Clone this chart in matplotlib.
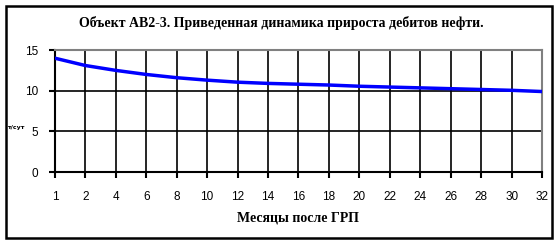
import matplotlib.pyplot as plt
from matplotlib.patches import Rectangle

months = ['1', '2', '4', '6', '8', '10', '12', '14', '16', '18', '20', '22', '24', '26', '28', '30', '32']
growth = [14.0, 13.1, 12.5, 12.0, 11.6, 11.3, 11.05, 10.9, 10.8, 10.7, 10.55, 10.45, 10.35, 10.25, 10.15, 10.05, 9.9]
yticks = [0, 5, 10, 15]

fig = plt.figure(figsize=(5.6, 2.43), dpi=100)
fig.patches.append(Rectangle((0.011, 0.02), 0.975, 0.955, transform=fig.transFigure,
                             fill=False, edgecolor='black', linewidth=1.8))

ax = fig.add_axes([0.098, 0.292, 0.870, 0.502])
x = list(range(len(months)))
ax.plot(x, growth, color='#0000ff', linewidth=2.5, zorder=3)

ax.set_xlim(0, len(months) - 1)
ax.set_ylim(0, 15)
ax.set_xticks(x)
ax.set_xticklabels(months, fontsize=8.5, family='Liberation Sans')
ax.set_yticks(yticks)
ax.set_yticklabels([str(v) for v in yticks], fontsize=8.5, family='Liberation Sans')
ax.tick_params(axis='both', direction='out', length=4, width=1.5, colors='black', pad=10)
ax.tick_params(axis='y', pad=8)

ax.grid(True, color='black', linewidth=1.2)
ax.set_axisbelow(True)
for side in ['top', 'right']:
    ax.spines[side].set_color('#808080')
    ax.spines[side].set_linewidth(1.5)
for side in ['left', 'bottom']:
    ax.spines[side].set_color('black')
    ax.spines[side].set_linewidth(1.5)

fig.text(0.503, 0.905, 'Объект АВ2-3. Приведенная динамика прироста дебитов нефти.',
         fontsize=10, fontweight='bold', family='Liberation Serif', ha='center', va='center')
ax.set_xlabel('Месяцы после ГРП', fontsize=10, fontweight='bold', family='Liberation Serif', labelpad=6)
fig.text(0.03, 0.475, 'т/сут', fontsize=4.5, fontweight='bold', ha='center', va='center')

fig.savefig('out.png', dpi=100)
